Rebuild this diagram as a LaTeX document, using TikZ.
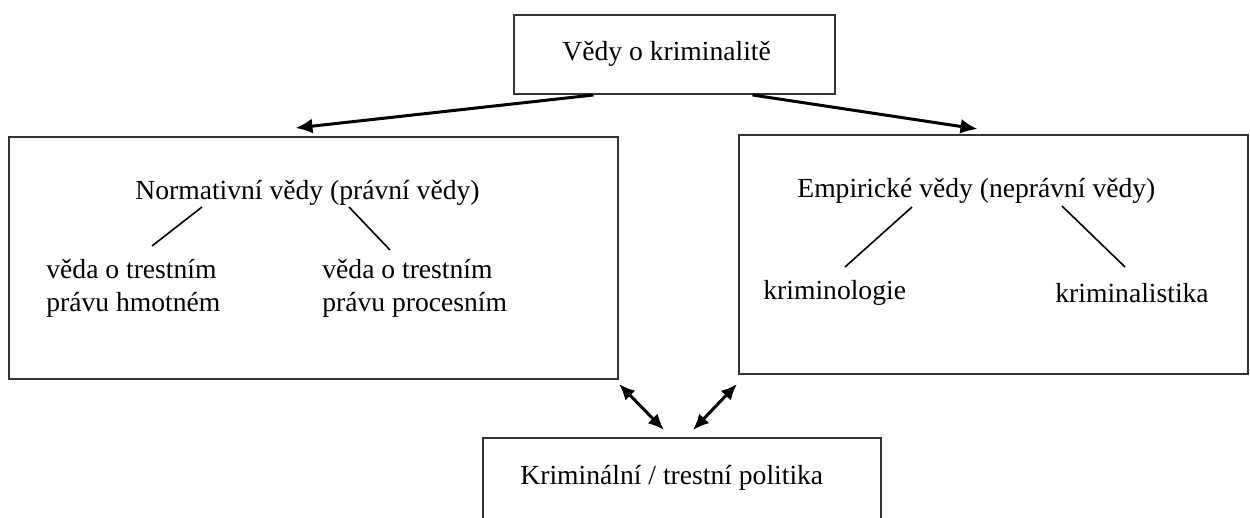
\documentclass[tikz,border=0pt]{standalone}
\usepackage{fontspec}
\setmainfont{Liberation Serif}
\usetikzlibrary{arrows.meta,calc}

\begin{document}
\begin{tikzpicture}[x=0.5pt,y=-0.5pt,
  box/.style={draw=black!80,line width=1pt,inner sep=0pt},
  txt/.style={inner sep=0pt,anchor=base west,align=left,font=\fontsize{13.8}{16.5}\selectfont},
  arr/.style={line width=1.5pt,-{Latex[length=8.5pt,width=7.5pt]}},
  darr/.style={line width=1.5pt,{Latex[length=8pt,width=7pt]}-{Latex[length=8pt,width=7pt]}},
  branch/.style={line width=0.8pt}]
\useasboundingbox (0,0) rectangle (1250,518);
\clip (0,0) rectangle (1250,518);
% boxes
\node[box,minimum width=160.5pt,minimum height=39.5pt] (sciences) at (674.5,54.5) {};
\node[box,minimum width=304.5pt,minimum height=121pt] (normbox) at (313.5,258) {};
\node[box,minimum width=254.5pt,minimum height=119.5pt] (empbox) at (993.5,254.5) {};
\node[box,minimum width=199pt,minimum height=61pt] (policybox) at (682,499) {};
% texts
\node[txt] (title) at (562,61) {Vědy o kriminalitě};
\node[txt] (normtitle) at (135,200) {Normativní vědy (právní vědy)};
\node[txt] (hmot) at (46,312) {věda o trestním\\právu hmotném};
\node[txt] (proc) at (322,312) {věda o trestním\\právu procesním};
\node[txt] (emptitle) at (797,198) {Empirické vědy (neprávní vědy)};
\node[txt] (krlog) at (763,300) {kriminologie};
\node[txt] (krist) at (1055,303) {kriminalistika};
\node[txt] (policy) at (520,485) {Kriminální / trestní politika};
% arrows
\draw[arr] ($(sciences.south)+(-81,0)$) -- ($(normbox.north)+(-18,-8)$);
\draw[arr] ($(sciences.south)+(78,0)$) -- ($(empbox.north)+(-16,-5)$);
\draw[darr] ($(normbox.south east)+(0,4)$) -- ($(policybox.north)+(-18,-7)$);
\draw[darr] ($(empbox.south west)+(-1,9)$) -- ($(policybox.north)+(11,-7)$);
% branches
\draw[branch] ($(normtitle.base west)+(67,7)$) -- ($(hmot.base west)+(106,-66)$);
\draw[branch] ($(normtitle.base west)+(214,7)$) -- ($(proc.base west)+(68,-62)$);
\draw[branch] ($(emptitle.base west)+(115,9)$) -- ($(krlog.base west)+(82,-33)$);
\draw[branch] ($(emptitle.base west)+(265,8)$) -- ($(krist.base west)+(70,-36)$);
\end{tikzpicture}
\end{document}
